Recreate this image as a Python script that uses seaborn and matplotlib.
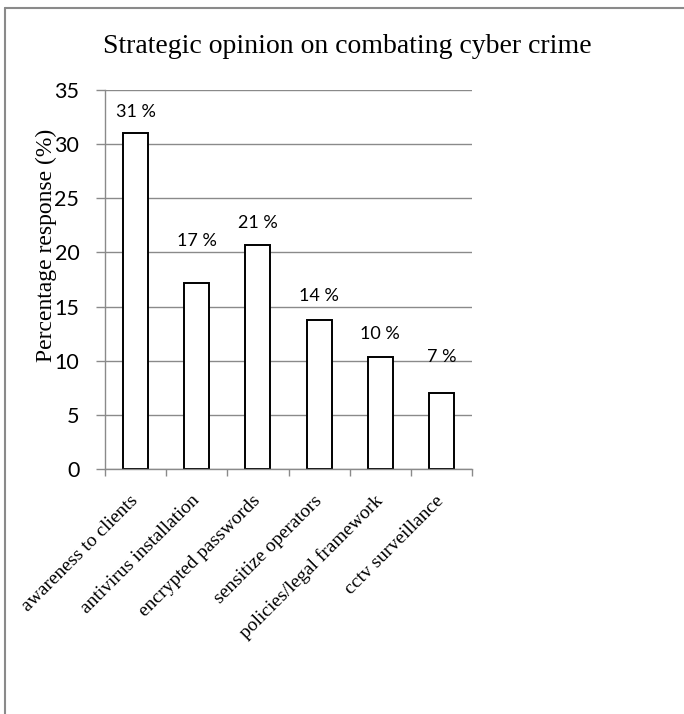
import matplotlib
matplotlib.use("Agg")
import matplotlib.pyplot as plt
from matplotlib.lines import Line2D
from matplotlib.ticker import FixedLocator
import seaborn as sns
import pandas as pd

# Survey results: share of respondents favouring each strategy (%)
strategies = [
    "awareness to clients",
    "antivirus installation",
    "encrypted passwords",
    "sensitize operators",
    "policies/legal framework",
    "cctv surveillance",
]
responses = [31.0, 17.2, 20.7, 13.8, 10.3, 7.0]
y_ticks = [0, 5, 10, 15, 20, 25, 30, 35]

title = "Strategic opinion on combating cyber crime"
y_title = "Percentage response (%)"

df = pd.DataFrame({"strategy": strategies, "response": responses})

sns.set_theme(style="white")
plt.rcParams["font.family"] = ["Liberation Serif", "DejaVu Serif"]

W, H = 684, 714
fig = plt.figure(figsize=(W / 100, H / 100), dpi=100)
ax = fig.add_axes([105 / W, 1 - 469 / H, 367 / W, 379 / H])

grid_grey = "#8a8a8a"

sns.barplot(data=df, x="strategy", y="response", color="white",
            saturation=1, edgecolor="black", linewidth=1.4, width=0.41, ax=ax)

ax.set_xlim(-0.5, len(strategies) - 0.5)
ax.set_ylim(y_ticks[0], y_ticks[-1])
ax.set_yticks(y_ticks)
ax.yaxis.grid(True, color=grid_grey, linewidth=1.0)
ax.set_axisbelow(True)

for side in ("top", "right"):
    ax.spines[side].set_visible(False)
for side in ("left", "bottom"):
    ax.spines[side].set_color(grid_grey)
    ax.spines[side].set_linewidth(1.0)

# y ticks: grey, outward, sans-serif labels
ax.tick_params(axis="y", which="major", direction="out", length=6.5,
               width=1.0, color=grid_grey, pad=12, left=True)
for lab in ax.get_yticklabels():
    lab.set_fontfamily(["Lato", "DejaVu Sans"])
    lab.set_fontsize(15.5)
    lab.set_color("black")

# x axis: category labels at centres, tick marks on category boundaries
ax.xaxis.set_minor_locator(FixedLocator([i - 0.5 for i in range(len(strategies) + 1)]))
ax.tick_params(axis="x", which="minor", direction="out", length=5,
               width=1.0, color=grid_grey, bottom=True)
ax.tick_params(axis="x", which="major", length=0, pad=21)
ax.set_xticks(range(len(strategies)))
ax.set_xticklabels(strategies, rotation=45, ha="right", va="center",
                   rotation_mode="anchor", fontsize=14, color="black")
ax.set_xlabel("")

ax.set_ylabel(y_title, fontsize=17, color="black", va="center")
ax.yaxis.set_label_coords(-0.161, 0.591)

# value labels above each bar
label_lift = [2.0, 3.9, 2.0, 2.2, 2.2, 3.3]
for i, v in enumerate(responses):
    ax.text(i, v + label_lift[i], f"{v:.0f} %", ha="center", va="center",
            fontsize=13, family=["Lato", "DejaVu Sans"], color="black")

fig.text(347 / W, 1 - 53 / H, title, ha="center", va="baseline",
         fontsize=20, color="black")

# chart frame (left and top edges)
fig.add_artist(Line2D([5 / W, 5 / W], [0, 1 - 8 / H], transform=fig.transFigure,
                      color=grid_grey, linewidth=1.5))
fig.add_artist(Line2D([5 / W, 1], [1 - 8 / H, 1 - 8 / H], transform=fig.transFigure,
                      color=grid_grey, linewidth=1.5))

fig.savefig("out.png", dpi=100)
